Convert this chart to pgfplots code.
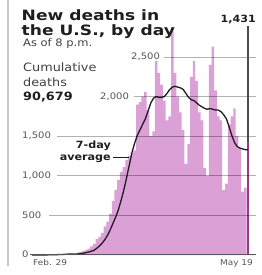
\documentclass[border=0pt]{standalone}
\usepackage{pgfplots}
\usepackage{pgfplotstable}
\pgfplotsset{compat=1.18}
\usepackage{fontspec}
\setmainfont{DejaVu Sans}[FakeStretch=1.12]
\newfontfamily\titlefont{DejaVu Sans}[FakeStretch=1.2]
\definecolor{barpink}{HTML}{DBA0D5}
\definecolor{lastbar}{HTML}{973A8D}
\definecolor{avgline}{HTML}{231A23}
\definecolor{txt}{HTML}{1E1E1E}
\definecolor{lbl}{HTML}{555555}

\pgfplotstableread{
day deaths
0 1
1 0
2 1
3 0
4 2
5 4
6 3
7 2
8 5
9 4
10 6
11 8
12 6
13 10
14 12
15 14
16 22
17 30
18 40
19 50
20 60
21 80
22 110
23 140
24 200
25 230
26 280
27 360
28 420
29 520
30 680
31 820
32 950
33 1050
34 1110
35 1200
36 1250
37 1290
38 1320
39 1900
40 1930
41 2000
42 2060
43 1830
44 1500
45 1560
46 2450
47 2300
48 2150
49 1950
50 1700
51 1750
52 2870
53 2300
54 2000
55 1800
56 1580
57 1150
58 1400
59 2250
60 2450
61 2200
62 1800
63 1700
64 1100
65 1000
66 2400
67 2630
68 2080
69 1750
70 1700
71 820
72 900
73 1650
74 1750
75 1850
76 1500
77 1350
78 800
79 850
}\bars

\pgfplotstableread{
day avg
0 0
4 1
8 3
12 8
14 13
16 10
17 13
18 17
19 22
20 30
21 38
22 48
23 60
24 85
25 115
26 150
27 195
28 250
29 320
30 400
31 480
32 570
33 690
34 820
35 970
36 1130
37 1290
38 1410
39 1510
40 1580
41 1650
42 1720
43 1820
44 1920
45 1980
46 2000
47 1990
48 1990
49 2000
50 2040
51 2090
52 2120
53 2130
54 2120
55 2110
56 2090
57 2040
58 1990
59 1960
60 1950
61 1920
62 1890
63 1870
64 1850
65 1840
66 1850
67 1840
68 1830
69 1830
70 1810
71 1770
72 1720
73 1620
74 1510
75 1420
76 1370
77 1350
78 1340
79 1330
80 1330
}\avgtab

\begin{document}
\begin{tikzpicture}[x=1bp,y=1bp]
\useasboundingbox (0,0) rectangle (262,275);
% left border
\draw[gray!45, line width=2.2bp] (8,9) -- (8,275);
\begin{axis}[
  at={(21.2bp,20bp)}, anchor=south west,
  scale only axis, width=237.6bp, height=241.56bp,
  xmin=-4, xmax=84, ymin=0, ymax=3050,
  axis lines=none, clip=false,
  ybar, bar width=2.45bp, bar shift=0pt,
]
\addplot[fill=barpink, draw=none] table[x=day, y=deaths] {\bars};
\addplot[fill=lastbar, draw=none] coordinates {(80,1431)};
\addplot[sharp plot, draw=avgline, line width=1.3bp, mark=none] table[x=day, y=avg] {\avgtab};
\end{axis}
% gridlines (over bars)
\begin{scope}[black, opacity=0.3, line width=0.8bp]
\draw (49,59.6) -- (256,59.6);
\draw (57,99.2) -- (256,99.2);
\draw (57,138.8) -- (256,138.8);
\draw (134,178.4) -- (256,178.4);
\draw (164,218) -- (256,218);
\end{scope}
\draw[lbl, line width=1bp] (30,20) -- (256,20);
% tick labels
\begin{scope}[lbl, font=\fontsize{9}{9}\selectfont, inner sep=0pt]
\node[anchor=mid west] at (22,20) {0};
\node[anchor=mid west] at (22,59.6) {500};
\node[anchor=mid west] at (22,99.2) {1,000};
\node[anchor=mid west] at (22,138.8) {1,500};
\node[anchor=mid west] at (100,178.4) {2,000};
\node[anchor=mid west] at (131,218) {2,500};
\end{scope}
\node[lbl, font=\fontsize{8}{8}\selectfont, inner sep=0pt, anchor=base west] at (33,10) {Feb. 29};
\node[lbl, font=\fontsize{8}{8}\selectfont, inner sep=0pt, anchor=base east] at (253,10) {May 19};
% May 19 marker
\draw[black!70, line width=1.1bp] (248,133) -- (248,249);
\node[txt, font=\fontsize{10}{10}\selectfont\bfseries, inner sep=0pt, anchor=base east] at (256,253) {1,431};
% 7-day label
\node[txt, font=\fontsize{10}{10}\selectfont\bfseries, inner sep=0pt, anchor=base east] at (111,127) {7-day};
\node[txt, font=\fontsize{10}{10}\selectfont\bfseries, inner sep=0pt, anchor=base east] at (111,115) {average};
\draw[txt, line width=0.9bp] (113,118) -- (129,118);
% titles
\node[txt, font=\fontsize{14.3}{14.3}\titlefont\bfseries, inner sep=0pt, anchor=base west] at (21.5,254.3) {New deaths in};
\node[txt, font=\fontsize{14.3}{14.3}\titlefont\bfseries, inner sep=0pt, anchor=base west] at (21.5,240) {the U.S., by day};
\node[txt!85, font=\fontsize{10.3}{10.3}\selectfont, inner sep=0pt, anchor=base west] at (23,228.3) {As of 8 p.m.};
\node[txt!85, font=\fontsize{11.5}{11.5}\selectfont, inner sep=0pt, anchor=base west] at (23,203.3) {Cumulative};
\node[txt!85, font=\fontsize{11.5}{11.5}\selectfont, inner sep=0pt, anchor=base west] at (23,189) {deaths};
\node[txt, font=\fontsize{11.5}{11.5}\selectfont\bfseries, inner sep=0pt, anchor=base west] at (23,175) {90,679};
\end{tikzpicture}
\end{document}
